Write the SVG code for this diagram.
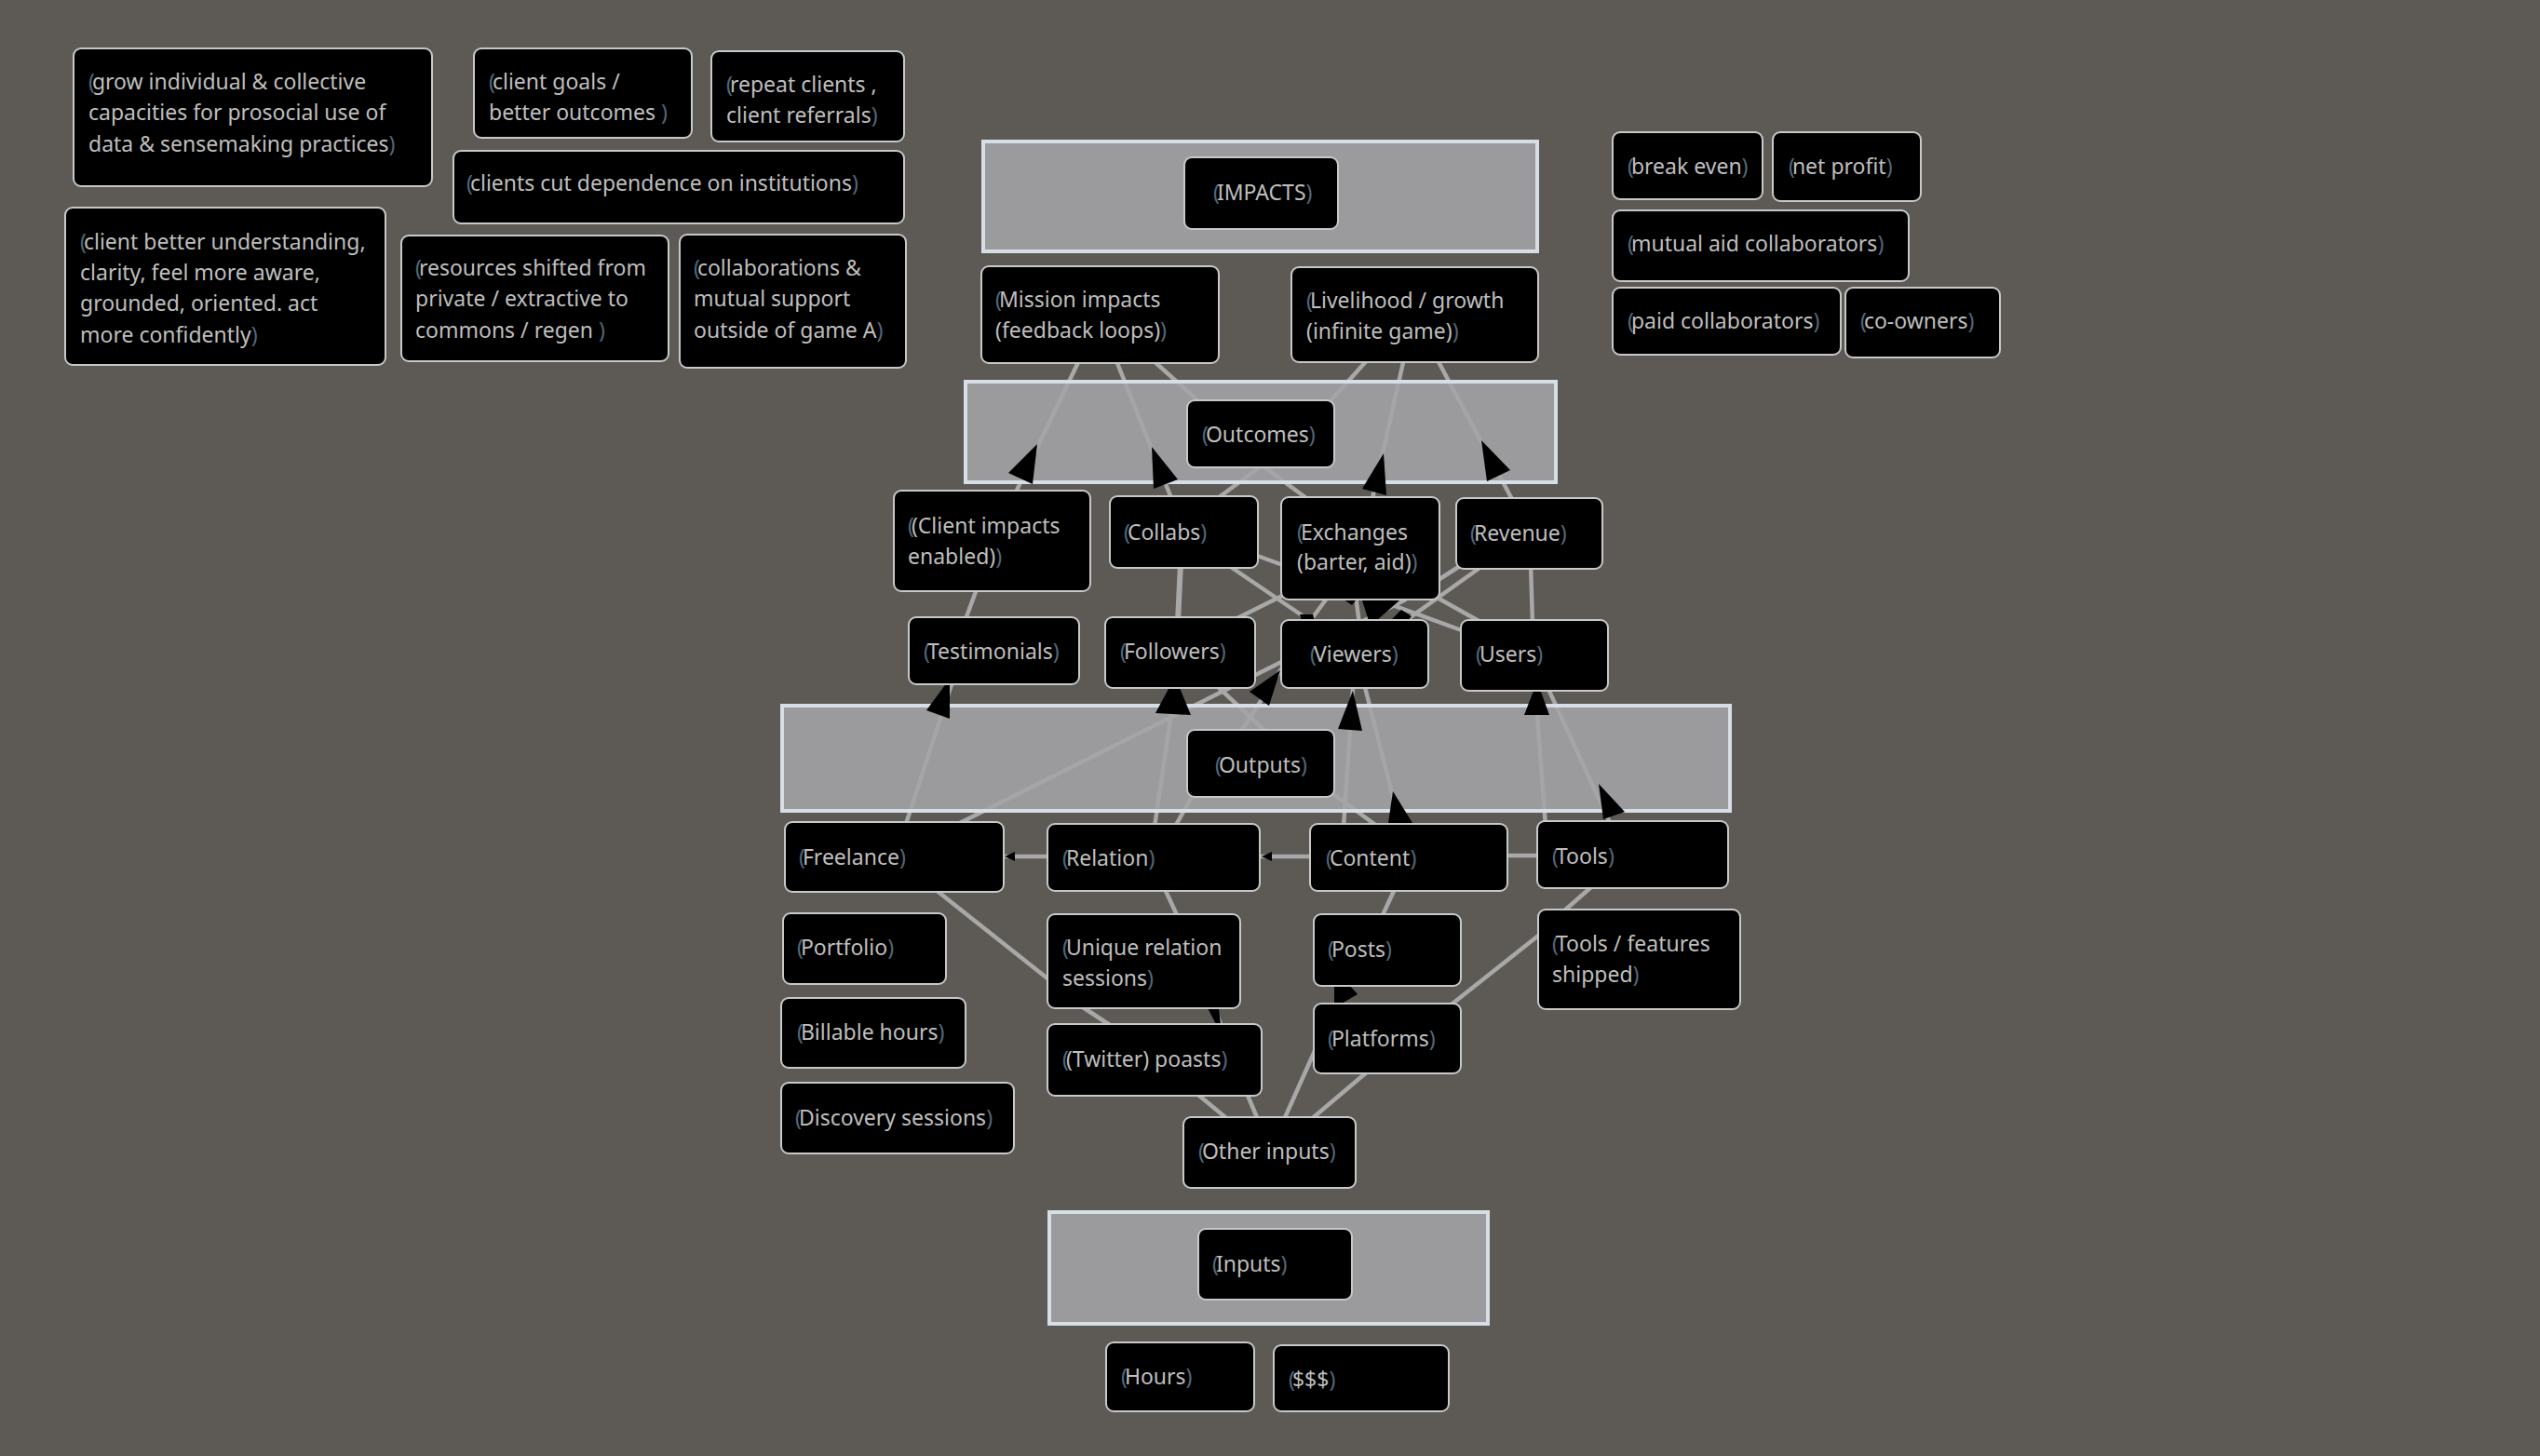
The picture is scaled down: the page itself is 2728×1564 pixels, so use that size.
<svg xmlns="http://www.w3.org/2000/svg" width="2728" height="1564" viewBox="0 0 2728 1564">
<style>
.grp{fill:#a4a4a6;fill-opacity:0.87;stroke:#d6dee6;stroke-width:4}
.n rect{fill:#000;stroke:#c8c8c8;stroke-width:2}
text{font-family:"Noto Sans","Liberation Sans",sans-serif;font-size:23px;fill:#bebebe}
.b{fill:#52677a;letter-spacing:-3px}
.c{fill:#52677a}
#connectors line{stroke:#a8a8a8;stroke-width:4.5}
#arrowheads polygon{fill:#000}
</style>
<rect width="2728" height="1564" fill="#5d5a55"/>
<g id="connectors">
<line x1="1160" y1="385" x2="1088" y2="535"/>
<line x1="1198" y1="385" x2="1260" y2="540"/>
<line x1="1236" y1="385" x2="1292" y2="435"/>
<line x1="1470" y1="385" x2="1425" y2="435"/>
<line x1="1508" y1="385" x2="1473" y2="540"/>
<line x1="1543" y1="385" x2="1626" y2="540"/>
<line x1="1358" y1="498" x2="1304" y2="538"/>
<line x1="1353" y1="498" x2="1407" y2="538"/>
<line x1="1050" y1="630" x2="1036" y2="668"/>
<line x1="1268" y1="605" x2="1265" y2="668" style="stroke-width:6"/>
<line x1="1345" y1="595" x2="1575" y2="679"/>
<line x1="1316" y1="605" x2="1410" y2="669"/>
<line x1="1325" y1="666" x2="1385" y2="636"/>
<line x1="1427" y1="640" x2="1405" y2="670"/>
<line x1="1456" y1="640" x2="1460" y2="670"/>
<line x1="1592" y1="608" x2="1505" y2="670"/>
<line x1="1568" y1="608" x2="1540" y2="626"/>
<line x1="1644" y1="606" x2="1646" y2="670"/>
<line x1="1540" y1="640" x2="1590" y2="668"/>
<line x1="972" y1="888" x2="1022" y2="735"/>
<line x1="1025" y1="887" x2="1510" y2="644"/>
<line x1="1240" y1="888" x2="1262" y2="738"/>
<line x1="1262" y1="888" x2="1282" y2="852"/>
<line x1="1305" y1="735" x2="1362" y2="788"/>
<line x1="1330" y1="790" x2="1378" y2="716"/>
<line x1="1443" y1="888" x2="1453" y2="740"/>
<line x1="1466" y1="738" x2="1504" y2="888"/>
<line x1="1428" y1="850" x2="1480" y2="888"/>
<line x1="1651" y1="768" x2="1660" y2="888"/>
<line x1="1662" y1="738" x2="1731" y2="888"/>
<line x1="1075" y1="920" x2="1130" y2="920"/>
<line x1="1350" y1="920" x2="1410" y2="920"/>
<line x1="1615" y1="919" x2="1655" y2="919"/>
<line x1="1004" y1="955" x2="1130" y2="1055"/>
<line x1="1251" y1="955" x2="1265" y2="985"/>
<line x1="1498" y1="955" x2="1484" y2="985"/>
<line x1="1710" y1="952" x2="1678" y2="980"/>
<line x1="1656" y1="1002" x2="1555" y2="1082"/>
<line x1="1160" y1="1080" x2="1195" y2="1103"/>
<line x1="1304" y1="1080" x2="1312" y2="1103"/>
<line x1="1282" y1="1172" x2="1322" y2="1205"/>
<line x1="1338" y1="1172" x2="1352" y2="1205"/>
<line x1="1378" y1="1205" x2="1445" y2="1055"/>
<line x1="1470" y1="1150" x2="1405" y2="1205"/>
</g>
<g id="groups">
<rect id="g-impacts" class="grp" x="1056" y="152" width="595" height="118"/>
<rect id="g-outcomes" class="grp" x="1037" y="410" width="634" height="108"/>
<rect id="g-outputs" class="grp" x="840" y="758" width="1018" height="113"/>
<rect id="g-inputs" class="grp" x="1127" y="1302" width="471" height="120"/>
</g>
<g id="arrowheads">
<polygon points="1114,477 1083,508 1109,520"/>
<polygon points="1237,480 1239,525 1265,515"/>
<polygon points="1486,487 1463,525 1489,532"/>
<polygon points="1591,473 1597,517 1622,505"/>
<polygon points="1020,729 995,763 1020,772"/>
<polygon points="1262,727 1241,766 1279,768"/>
<polygon points="1375,720 1342,743 1363,758"/>
<polygon points="1453,742 1437,783 1463,785"/>
<polygon points="1651,732 1637,768 1664,768"/>
<polygon points="1496,850 1491,884 1517,884"/>
<polygon points="1717,842 1722,880 1745,872"/>
<polygon points="1396,660 1410,660 1412,667 1398,667"/>
<polygon points="1443,644 1457,644 1452,650"/>
<polygon points="1463,645 1503,645 1478,667 1470,667"/>
<polygon points="1493,667 1505,655 1516,662 1512,667"/>
<polygon points="1079,920 1090,915 1090,925"/>
<polygon points="1355,920 1366,915 1366,925"/>
<polygon points="1297,1083 1309,1083 1311,1100 1306,1100"/>
<polygon points="1433,1059 1450,1059 1458,1068 1441,1078 1433,1078"/>
</g>
<g id="n-grow" class="n"><rect x="79" y="52" width="385" height="148" rx="8"/><text x="95" y="96"><tspan class="b">(</tspan>grow individual &amp; collective</text><text x="95" y="129">capacities for prosocial use of</text><text x="95" y="163">data &amp; sensemaking practices<tspan class="c">)</tspan></text></g>
<g id="n-goals" class="n"><rect x="509" y="52" width="234" height="96" rx="8"/><text x="525" y="96"><tspan class="b">(</tspan>client goals /</text><text x="525" y="129">better outcomes <tspan class="c">)</tspan></text></g>
<g id="n-repeat" class="n"><rect x="764" y="55" width="207" height="97" rx="8"/><text x="780" y="99"><tspan class="b">(</tspan>repeat clients ,</text><text x="780" y="132">client referrals<tspan class="c">)</tspan></text></g>
<g id="n-cut" class="n"><rect x="487" y="162" width="484" height="78" rx="8"/><text x="501" y="205"><tspan class="b">(</tspan>clients cut dependence on institutions<tspan class="c">)</tspan></text></g>
<g id="n-understand" class="n"><rect x="70" y="223" width="344" height="169" rx="8"/><text x="86" y="268"><tspan class="b">(</tspan>client better understanding,</text><text x="86" y="301">clarity, feel more aware,</text><text x="86" y="334">grounded, oriented. act</text><text x="86" y="368">more confidently<tspan class="c">)</tspan></text></g>
<g id="n-resources" class="n"><rect x="431" y="253" width="287" height="135" rx="8"/><text x="446" y="296"><tspan class="b">(</tspan>resources shifted from</text><text x="446" y="329">private / extractive to</text><text x="446" y="363">commons / regen <tspan class="c">)</tspan></text></g>
<g id="n-collab" class="n"><rect x="730" y="252" width="243" height="143" rx="8"/><text x="745" y="296"><tspan class="b">(</tspan>collaborations &amp;</text><text x="745" y="329">mutual support</text><text x="745" y="363">outside of game A<tspan class="c">)</tspan></text></g>
<g id="n-impacts" class="n"><rect x="1272" y="169" width="165" height="77" rx="8"/><text x="1303" y="215"><tspan class="b">(</tspan>IMPACTS<tspan class="c">)</tspan></text></g>
<g id="n-mission" class="n"><rect x="1054" y="286" width="255" height="104" rx="8"/><text x="1069" y="330"><tspan class="b">(</tspan>Mission impacts</text><text x="1069" y="363">(feedback loops)<tspan class="c">)</tspan></text></g>
<g id="n-livelihood" class="n"><rect x="1387" y="287" width="265" height="102" rx="8"/><text x="1403" y="331"><tspan class="b">(</tspan>Livelihood / growth</text><text x="1403" y="364">(infinite game)<tspan class="c">)</tspan></text></g>
<g id="n-outcomes" class="n"><rect x="1275" y="430" width="158" height="72" rx="8"/><text x="1291" y="475"><tspan class="b">(</tspan>Outcomes<tspan class="c">)</tspan></text></g>
<g id="n-client" class="n"><rect x="960" y="527" width="211" height="108" rx="8"/><text x="975" y="573"><tspan class="b">(</tspan>(Client impacts</text><text x="975" y="606">enabled)<tspan class="c">)</tspan></text></g>
<g id="n-collabs" class="n"><rect x="1192" y="533" width="159" height="77" rx="8"/><text x="1207" y="580"><tspan class="b">(</tspan>Collabs<tspan class="c">)</tspan></text></g>
<g id="n-exchanges" class="n"><rect x="1376" y="534" width="170" height="110" rx="8"/><text x="1393" y="580"><tspan class="b">(</tspan>Exchanges</text><text x="1393" y="612">(barter, aid)<tspan class="c">)</tspan></text></g>
<g id="n-revenue" class="n"><rect x="1564" y="535" width="157" height="76" rx="8"/><text x="1579" y="581"><tspan class="b">(</tspan>Revenue<tspan class="c">)</tspan></text></g>
<g id="n-testimonials" class="n"><rect x="976" y="663" width="183" height="72" rx="8"/><text x="992" y="708"><tspan class="b">(</tspan>Testimonials<tspan class="c">)</tspan></text></g>
<g id="n-followers" class="n"><rect x="1187" y="663" width="161" height="76" rx="8"/><text x="1203" y="708"><tspan class="b">(</tspan>Followers<tspan class="c">)</tspan></text></g>
<g id="n-viewers" class="n"><rect x="1376" y="666" width="158" height="73" rx="8"/><text x="1407" y="711"><tspan class="b">(</tspan>Viewers<tspan class="c">)</tspan></text></g>
<g id="n-users" class="n"><rect x="1569" y="666" width="158" height="76" rx="8"/><text x="1585" y="711"><tspan class="b">(</tspan>Users<tspan class="c">)</tspan></text></g>
<g id="n-outputs" class="n"><rect x="1275" y="784" width="158" height="72" rx="8"/><text x="1305" y="830"><tspan class="b">(</tspan>Outputs<tspan class="c">)</tspan></text></g>
<g id="n-freelance" class="n"><rect x="843" y="883" width="235" height="75" rx="8"/><text x="858" y="929"><tspan class="b">(</tspan>Freelance<tspan class="c">)</tspan></text></g>
<g id="n-relation" class="n"><rect x="1125" y="885" width="228" height="72" rx="8"/><text x="1141" y="930"><tspan class="b">(</tspan>Relation<tspan class="c">)</tspan></text></g>
<g id="n-content" class="n"><rect x="1407" y="885" width="212" height="72" rx="8"/><text x="1424" y="930"><tspan class="b">(</tspan>Content<tspan class="c">)</tspan></text></g>
<g id="n-tools" class="n"><rect x="1651" y="882" width="205" height="72" rx="8"/><text x="1667" y="928"><tspan class="b">(</tspan>Tools<tspan class="c">)</tspan></text></g>
<g id="n-portfolio" class="n"><rect x="841" y="981" width="175" height="76" rx="8"/><text x="856" y="1026"><tspan class="b">(</tspan>Portfolio<tspan class="c">)</tspan></text></g>
<g id="n-unique" class="n"><rect x="1125" y="982" width="207" height="101" rx="8"/><text x="1141" y="1026"><tspan class="b">(</tspan>Unique relation</text><text x="1141" y="1059">sessions<tspan class="c">)</tspan></text></g>
<g id="n-posts" class="n"><rect x="1411" y="982" width="158" height="77" rx="8"/><text x="1426" y="1028"><tspan class="b">(</tspan>Posts<tspan class="c">)</tspan></text></g>
<g id="n-shipped" class="n"><rect x="1652" y="977" width="217" height="107" rx="8"/><text x="1667" y="1022"><tspan class="b">(</tspan>Tools / features</text><text x="1667" y="1055">shipped<tspan class="c">)</tspan></text></g>
<g id="n-billable" class="n"><rect x="839" y="1072" width="198" height="75" rx="8"/><text x="856" y="1117"><tspan class="b">(</tspan>Billable hours<tspan class="c">)</tspan></text></g>
<g id="n-twitter" class="n"><rect x="1125" y="1100" width="230" height="77" rx="8"/><text x="1141" y="1146"><tspan class="b">(</tspan>(Twitter) poasts<tspan class="c">)</tspan></text></g>
<g id="n-platforms" class="n"><rect x="1411" y="1078" width="158" height="75" rx="8"/><text x="1426" y="1124"><tspan class="b">(</tspan>Platforms<tspan class="c">)</tspan></text></g>
<g id="n-discovery" class="n"><rect x="839" y="1163" width="250" height="76" rx="8"/><text x="854" y="1209"><tspan class="b">(</tspan>Discovery sessions<tspan class="c">)</tspan></text></g>
<g id="n-other" class="n"><rect x="1271" y="1200" width="185" height="76" rx="8"/><text x="1287" y="1245"><tspan class="b">(</tspan>Other inputs<tspan class="c">)</tspan></text></g>
<g id="n-inputs" class="n"><rect x="1287" y="1320" width="165" height="76" rx="8"/><text x="1302" y="1366"><tspan class="b">(</tspan>Inputs<tspan class="c">)</tspan></text></g>
<g id="n-hours" class="n"><rect x="1188" y="1442" width="159" height="74" rx="8"/><text x="1204" y="1487"><tspan class="b">(</tspan>Hours<tspan class="c">)</tspan></text></g>
<g id="n-money" class="n"><rect x="1368" y="1445" width="188" height="71" rx="8"/><text x="1384" y="1490"><tspan class="b">(</tspan>$$$<tspan class="c">)</tspan></text></g>
<g id="n-break" class="n"><rect x="1732" y="142" width="161" height="72" rx="8"/><text x="1748" y="187"><tspan class="b">(</tspan>break even<tspan class="c">)</tspan></text></g>
<g id="n-profit" class="n"><rect x="1904" y="142" width="159" height="74" rx="8"/><text x="1921" y="187"><tspan class="b">(</tspan>net profit<tspan class="c">)</tspan></text></g>
<g id="n-mutual" class="n"><rect x="1732" y="226" width="318" height="76" rx="8"/><text x="1748" y="270"><tspan class="b">(</tspan>mutual aid collaborators<tspan class="c">)</tspan></text></g>
<g id="n-paid" class="n"><rect x="1732" y="309" width="245" height="72" rx="8"/><text x="1748" y="353"><tspan class="b">(</tspan>paid collaborators<tspan class="c">)</tspan></text></g>
<g id="n-owners" class="n"><rect x="1982" y="309" width="166" height="75" rx="8"/><text x="1998" y="353"><tspan class="b">(</tspan>co-owners<tspan class="c">)</tspan></text></g>
</svg>
